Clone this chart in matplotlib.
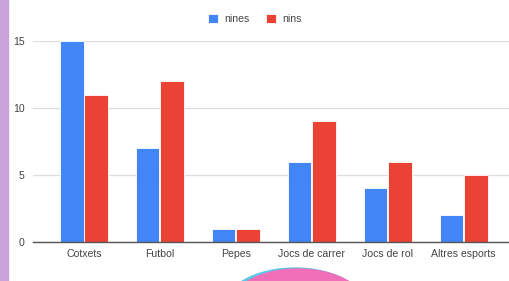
import matplotlib.pyplot as plt
import numpy as np
from matplotlib.patches import Ellipse, Rectangle

categories = ['Cotxets', 'Futbol', 'Pepes', 'Jocs de carrer', 'Jocs de rol', 'Altres esports']
nines = [15, 7, 1, 6, 4, 2]
nins = [11, 12, 1, 9, 6, 5]
yticks = [0, 5, 10, 15]

plt.rcParams['font.family'] = ['Liberation Sans', 'DejaVu Sans']

fig = plt.figure(figsize=(5.1, 2.81), dpi=100)
ax = fig.add_axes([33 / 510, 1 - 242 / 281, 1 - 33 / 510, (242 - 41) / 281])

x = np.arange(len(categories))
w = 0.31
ax.bar(x - w / 2 - 0.005, nines, w, color='#4285F4', edgecolor='white', linewidth=0.6, label='nines')
ax.bar(x + w / 2 + 0.005, nins, w, color='#EA4335', edgecolor='white', linewidth=0.6, label='nins')

ax.set_xlim(-0.67, 5.61)
ax.set_ylim(0, 15)
ax.set_yticks(yticks)
ax.set_xticks(x)
ax.set_xticklabels(categories)
ax.tick_params(axis='both', length=0, labelsize=7.6, colors='#444444')
ax.tick_params(axis='y', pad=6)
ax.tick_params(axis='x', pad=5)
ax.grid(axis='y', color='#dddddd', linewidth=0.9)
ax.set_axisbelow(True)
for s in ['top', 'right', 'left']:
    ax.spines[s].set_visible(False)
ax.spines['bottom'].set_color('#555555')
ax.spines['bottom'].set_linewidth(1.0)
ax.spines['bottom'].set_zorder(3)

fig.legend(loc='center', bbox_to_anchor=(255 / 510, 1 - 19 / 281), ncol=2, frameon=False,
           fontsize=7.6, handlelength=0.9, handleheight=0.9, handletextpad=0.6,
           columnspacing=1.6, labelcolor='#444444')

# purple strip on the left and pink shape at the bottom
fig.patches.append(Rectangle((0, 0), 8 / 510, 1, transform=fig.transFigure,
                             color='#c8a2d8', zorder=0))
fig.patches.append(Ellipse((295 / 510, -28 / 281), 144 / 510, 82 / 281,
                           transform=fig.transFigure, color='#5bc8e8', zorder=0))
fig.patches.append(Ellipse((298 / 510, -28 / 281), 140 / 510, 80 / 281,
                           transform=fig.transFigure, color='#f06fb8', zorder=0))

fig.savefig('out.png', dpi=100)
